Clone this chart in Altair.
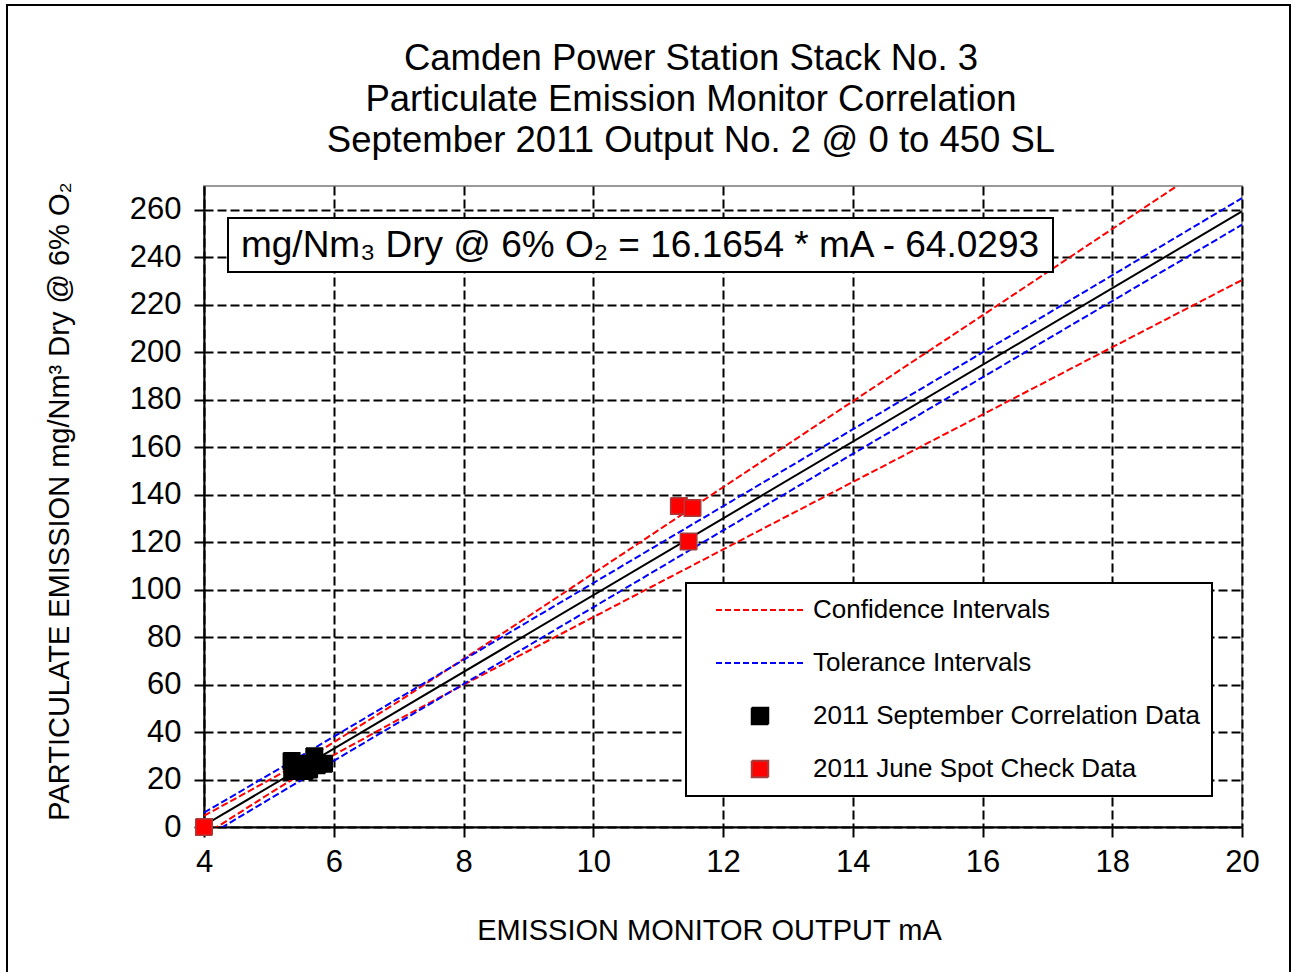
import altair as alt
import pandas as pd

FONT = "Liberation Sans"

# ---- data ----
reg_x = [4, 20]
reg_y = [0.63, 259.28]

conf_x = [4, 5, 5.6, 6, 7, 8, 10, 12, 14, 16, 18, 20]
conf_upper = [4.7, 19.7, 29.0, 35.7, 52.9, 70.7, 106.8, 143.1, 179.3, 215.5, 251.9, 288.2]
conf_lower = [-3.5, 13.9, 24.0, 30.3, 45.3, 59.9, 88.4, 116.9, 145.3, 173.7, 202.1, 230.4]

tol_x = [4, 5.6, 8, 12, 16, 20]
tol_upper = [6.0, 31.6, 70.4, 135.1, 199.9, 264.9]
tol_lower = [-4.7, 21.4, 60.2, 124.9, 189.4, 253.7]

sept_x = [5.35, 5.36, 5.45, 5.48, 5.55, 5.62, 5.70, 5.74, 5.85]
sept_y = [27.8, 23.6, 26.5, 24.5, 23.6, 24.2, 29.8, 26.0, 26.6]

june_x = [4.0, 11.32, 11.53, 11.47]
june_y = [0.0, 135.2, 134.4, 120.3]

legend_labels = ["Confidence Intervals", "Tolerance Intervals",
                 "2011 September Correlation Data", "2011 June Spot Check Data"]
legend_fill = ["#ff0000", "#0000ff", "#000000", "#ff0000"]
legend_stroke = ["#ff0000", "#0000ff", "#000000", "#a83c3c"]
SQUARE = "M-0.1875,-0.1875H0.1875V0.1875H-0.1875Z"
legend_shape = ["stroke", "stroke", SQUARE, SQUARE]
legend_dash = [[6, 3], [6, 3], [1, 0], [1, 0]]

x_ticks = [4, 6, 8, 10, 12, 14, 16, 18, 20]
y_ticks = [0, 20, 40, 60, 80, 100, 120, 140, 160, 180, 200, 220, 240, 260]

title_lines = ["Camden Power Station Stack No. 3",
               "Particulate Emission Monitor Correlation",
               "September 2011 Output No. 2 @ 0 to 450 SL"]
x_title = "EMISSION MONITOR OUTPUT mA"
y_title = "PARTICULATE EMISSION mg/Nm\u00b3 Dry @ 6% O\u2082"
eq_text = "mg/Nm\u2083 Dry @ 6% O\u2082 = 16.1654 * mA - 64.0293"

# ---- tables ----
reg_df = pd.DataFrame({"x": reg_x, "y": reg_y})
conf_df = pd.concat([
    pd.DataFrame({"x": conf_x, "y": conf_upper, "line": "upper"}),
    pd.DataFrame({"x": conf_x, "y": conf_lower, "line": "lower"}),
])
tol_df = pd.concat([
    pd.DataFrame({"x": tol_x, "y": tol_upper, "line": "upper"}),
    pd.DataFrame({"x": tol_x, "y": tol_lower, "line": "lower"}),
])
pts_df = pd.concat([
    pd.DataFrame({"x": sept_x, "y": sept_y, "series": legend_labels[2]}),
    pd.DataFrame({"x": june_x, "y": june_y, "series": legend_labels[3]}),
])
one = pd.DataFrame({"k": [0]})

x_axis = alt.Axis(values=x_ticks, title=x_title, format="d",
                  labelFont=FONT, labelFontSize=31, labelColor="black", labelPadding=10,
                  labelFlush=False, labelOverlap=False,
                  tickSize=10, tickWidth=2, tickColor="black",
                  domainColor="black", domainWidth=2,
                  grid=True, gridColor="black", gridDash=[9, 4], gridWidth=2, gridOpacity=1,
                  titleFont=FONT, titleFontSize=29, titleFontWeight="normal", titleColor="black",
                  titleX=505, titleY=112, titleBaseline="alphabetic", titleAlign="center")
y_axis = alt.Axis(values=y_ticks, title=y_title, format="d",
                  labelFont=FONT, labelFontSize=31, labelColor="black", labelPadding=13,
                  labelFlush=False, labelOverlap=False,
                  tickSize=10, tickWidth=2, tickColor="black",
                  domainColor="black", domainWidth=2,
                  grid=True, gridColor="black", gridDash=[9, 4], gridWidth=2, gridOpacity=1,
                  titleFont=FONT, titleFontSize=29, titleFontWeight="normal", titleColor="black",
                  titleX=-136, titleY=315, titleAngle=270, titleBaseline="alphabetic",
                  titleAlign="center")

X = alt.X("x:Q", scale=alt.Scale(domain=[4, 20], nice=False, zero=False), axis=x_axis)
Y = alt.Y("y:Q", scale=alt.Scale(domain=[0, 270], nice=False, zero=False), axis=y_axis)

border = alt.Chart(one).mark_rect(fillOpacity=0, stroke="black", strokeWidth=2).encode(
    x=alt.value(-197), x2=alt.value(1086), y=alt.value(-181), y2=alt.value(800))

conf = alt.Chart(conf_df).mark_line(color="#ff0000", strokeDash=[7, 3], strokeWidth=2, clip=True).encode(
    x=X, y=Y, detail="line:N")
tol = alt.Chart(tol_df).mark_line(color="#0000ff", strokeDash=[7, 3], strokeWidth=2, clip=True).encode(
    x=X, y=Y, detail="line:N")
reg = alt.Chart(reg_df).mark_line(color="black", strokeWidth=2, clip=True).encode(x=X, y=Y)

eq_box = alt.Chart(one).mark_rect(fill="white", stroke="black", strokeWidth=2).encode(
    x=alt.value(24), x2=alt.value(849), y=alt.value(32), y2=alt.value(86))
eq = alt.Chart(one).mark_text(text=eq_text, font=FONT, fontSize=37, color="black",
                              align="center", baseline="middle").encode(
    x=alt.value(436), y=alt.value(60))

leg = alt.Legend(title=None, orient="none", legendX=482, legendY=397, direction="vertical",
                 labelFont=FONT, labelFontSize=26, labelColor="black", labelLimit=700,
                 labelExpr="datum.label + '\u00a0\u00a0'",
                 labelOffset=8, symbolOffset=17, symbolStrokeWidth=2, symbolOpacity=1,
                 symbolSize=7744, clipHeight=30, rowPadding=23, padding=12,
                 strokeColor="black", fillColor="white")

pts = alt.Chart(pts_df).mark_point(filled=True, opacity=1, strokeWidth=1.5, size=7744).encode(
    x=X, y=Y,
    color=alt.Color("series:N", scale=alt.Scale(domain=legend_labels, range=legend_fill), legend=leg),
    stroke=alt.Stroke("series:N", scale=alt.Scale(domain=legend_labels, range=legend_stroke), legend=leg),
    shape=alt.Shape("series:N", scale=alt.Scale(domain=legend_labels, range=legend_shape), legend=leg),
    strokeDash=alt.StrokeDash("series:N", scale=alt.Scale(domain=legend_labels, range=legend_dash), legend=leg),
)

chart = alt.layer(border, conf, tol, reg, eq_box, eq, pts).properties(
    width=1038, height=641,
    autosize=alt.AutoSizeParams(type="none"),
    padding={"left": 204, "top": 186, "right": 53, "bottom": 145},
    background="white",
    title=alt.TitleParams(text=title_lines, font=FONT, fontSize=36.5, fontWeight="normal",
                          color="black", anchor="middle", frame="group", dx=-32, dy=218,
                          offset=26, baseline="bottom", lineHeight=41),
).configure_view(stroke="#9a9a9a", strokeWidth=2).configure_legend(strokeWidth=2)

chart.save("out.html", embed_options={"renderer": "svg", "actions": False})
